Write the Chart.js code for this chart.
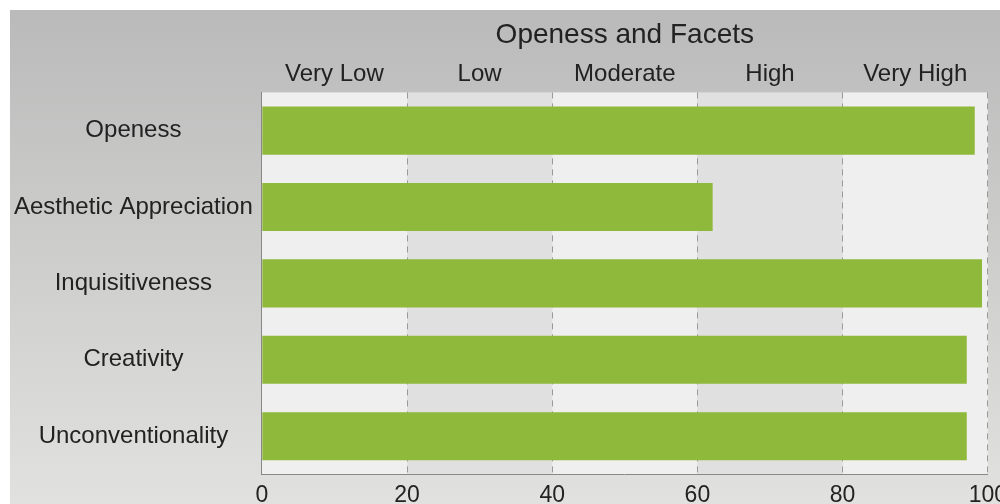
<!DOCTYPE html>
<html>
<head>
<meta charset="utf-8">
<script src="https://cdn.jsdelivr.net/npm/chart.js@4/dist/chart.umd.min.js"></script>
<style>
html,body{margin:0;padding:0;background:#fff;overflow:hidden;width:1000px;height:504px;}
#wrap{position:absolute;left:10px;top:10px;width:1004px;height:506px;}
</style>
</head>
<body>
<div id="wrap"><canvas id="c"></canvas></div>
<script>
const title = "Openess and Facets";
const categories = ["Openess", "Aesthetic Appreciation", "Inquisitiveness", "Creativity", "Unconventionality"];
const scores = [98.2, 62.1, 99.2, 97.1, 97.1];
const bandLabels = ["Very Low", "Low", "Moderate", "High", "Very High"];
const bandCenters = [10, 30, 50, 70, 90];
const bandEdges = [0, 20, 40, 60, 80, 100];

const bgPlugin = {
  id: 'bg',
  beforeDraw(chart) {
    const {ctx, width, height, chartArea, scales} = chart;
    const g = ctx.createLinearGradient(0, 0, 0, height);
    g.addColorStop(0, '#bababa');
    g.addColorStop(1, '#e2e3e0');
    ctx.save();
    ctx.fillStyle = g;
    ctx.fillRect(0, 0, width, height);
    const x = scales.x;
    for (let i = 0; i < bandEdges.length - 1; i++) {
      const x0 = x.getPixelForValue(bandEdges[i]);
      const x1 = x.getPixelForValue(bandEdges[i + 1]);
      ctx.fillStyle = i % 2 === 0 ? '#efefef' : '#e0e0e0';
      ctx.fillRect(x0, chartArea.top, x1 - x0, chartArea.bottom - chartArea.top);
    }
    ctx.restore();
  }
};

new Chart(document.getElementById('c'), {
  type: 'bar',
  data: {
    labels: categories,
    datasets: [{
      data: scores,
      backgroundColor: '#8fb93a',
      borderWidth: 0,
      barPercentage: 0.63,
      categoryPercentage: 1
    }]
  },
  options: {
    indexAxis: 'y',
    responsive: true,
    maintainAspectRatio: false,
    animation: false,
    layout: {padding: {right: 0, left: -5, bottom: 0, top: 0}},
    plugins: {
      legend: {display: false},
      tooltip: {enabled: false},
      title: {display: false}
    },
    scales: {
      x: {
        type: 'linear',
        position: 'bottom',
        min: 0, max: 100,
        ticks: {stepSize: 20, color: '#222', font: {family: 'Liberation Sans', size: 23}, padding: 7, maxRotation: 0},
        grid: {
          color: (c) => (c.tick && c.tick.value === 0) ? 'rgba(0,0,0,0)' : '#999',
          lineWidth: 1,
          drawTicks: false,
          tickLength: 0
        },
        border: {display: true, color: '#888', dash: [6, 5]}
      },
      x2: {
        type: 'linear',
        position: 'top',
        min: 0, max: 100,
        afterBuildTicks: (axis) => { axis.ticks = bandCenters.map(v => ({value: v})); },
        title: {
          display: true,
          text: title,
          color: '#222',
          font: {family: 'Liberation Sans', size: 28, weight: 'normal'},
          padding: {top: 8, bottom: 4}
        },
        ticks: {
          color: '#222',
          font: {family: 'Liberation Sans', size: 24},
          padding: 4,
          maxRotation: 0,
          autoSkip: false,
          callback: (v, i) => bandLabels[i]
        },
        grid: {display: false, drawTicks: false},
        border: {display: false}
      },
      y: {
        ticks: {color: '#222', font: {family: 'Liberation Sans', size: 24}, crossAlign: 'center', padding: 9},
        grid: {display: false, drawTicks: false},
        border: {display: true, color: '#888'}
      }
    }
  },
  plugins: [bgPlugin]
});
</script>
</body>
</html>
